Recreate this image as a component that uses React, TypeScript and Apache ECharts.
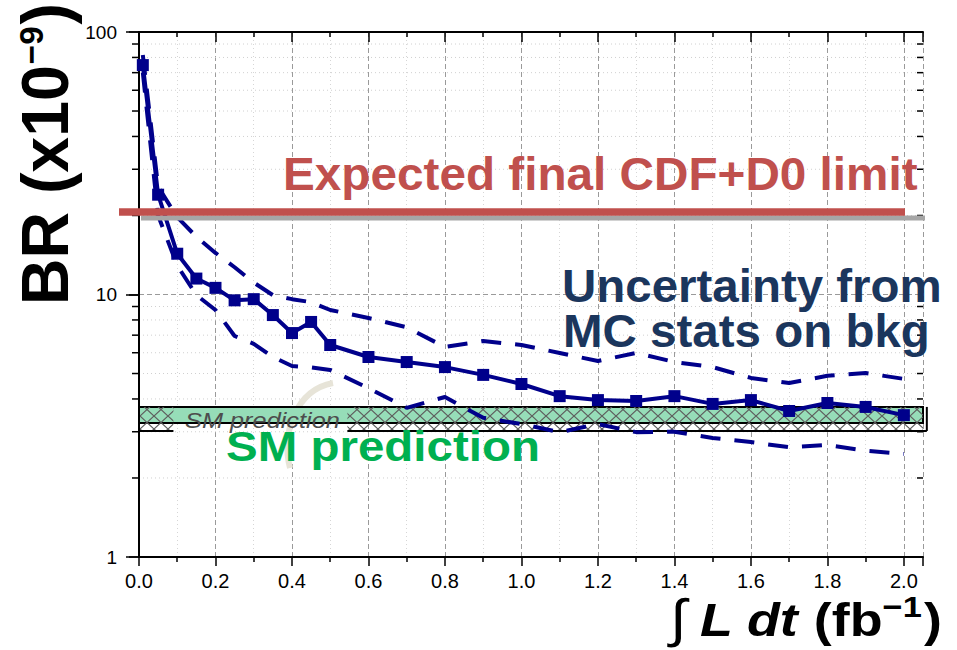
import React, { useEffect, useRef } from 'react';
import * as echarts from 'echarts';

// ---------------- data ----------------
const lumi = [0.01, 0.05, 0.1, 0.15, 0.2, 0.25, 0.3, 0.35, 0.4, 0.45, 0.5, 0.6, 0.7, 0.8, 0.9, 1.0, 1.1, 1.2, 1.3, 1.4, 1.5, 1.6, 1.7, 1.8, 1.9, 2.0];
const expectedLimit = [74.8, 24, 14.3, 11.5, 10.6, 9.5, 9.6, 8.35, 7.13, 7.86, 6.42, 5.78, 5.53, 5.29, 4.94, 4.56, 4.1, 3.96, 3.93, 4.1, 3.83, 3.96, 3.6, 3.86, 3.73, 3.47];
const upperMC = [81.7, 25.7, 19.7, 16.6, 14.4, 12.7, 11.1, 9.95, 9.6, 9.35, 8.73, 8.14, 7.5, 6.31, 6.65, 6.42, 5.99, 5.58, 5.99, 5.53, 5.29, 4.81, 4.6, 4.9, 5.02, 4.77];
const lowerMC = [70, 20, 12.9, 9.95, 8.73, 6.95, 6.49, 5.78, 5.34, 5.28, 5.16, 4.4, 3.7, 4.07, 3.39, 3.21, 2.99, 3.21, 2.99, 3.0, 2.84, 2.74, 2.62, 2.67, 2.54, 2.47];
const cdfD0Limit = 20.6;
const smCentral = [3.24, 3.73];
const smHatch = [3.02, 3.73];
const hatchSegments = [[0, 0.09], [0.545, 2.06]];
const xRange = [0, 2.05];
const yRange = [1, 100];
const yMinorMultipliers = [2, 3, 4, 5, 6, 7, 8, 9];
const yDecades = [1, 10];

const FONT = '"Liberation Sans", Arial, Helvetica, sans-serif';
const NAVY = '#00008B';

let mctx: CanvasRenderingContext2D | null = null;
function measure(text: string, size: number, weight = 'bold', style = 'normal') {
  if (!mctx) mctx = document.createElement('canvas').getContext('2d');
  mctx!.font = `${style} ${weight} ${size}px "Liberation Sans"`;
  return mctx!.measureText(text).width;
}

function fitText(text: string, size: number, color: string, left: number, baseline: number, width?: number, weight = 'bold', style = 'normal', z = 10) {
  const w = measure(text, size, weight, style);
  return {
    type: 'text', x: left, y: baseline - 0.35 * size, scaleX: width ? width / w : 1, z, silent: true,
    style: { text, fontSize: size, fontWeight: weight, fontStyle: style, fontFamily: FONT, fill: color, align: 'left', verticalAlign: 'middle' },
  };
}

function makeHatch() {
  const c = document.createElement('canvas');
  c.width = 14; c.height = 13;
  const g = c.getContext('2d')!;
  g.strokeStyle = '#5e5e5e';
  g.lineWidth = 1.2;
  g.beginPath();
  g.moveTo(0, 0); g.lineTo(14, 13);
  g.moveTo(14, 0); g.lineTo(0, 13);
  g.stroke();
  return { image: c.toDataURL(), repeat: 'repeat', imageWidth: 14, imageHeight: 13 };
}

export default function App() {
  const ref = useRef<HTMLDivElement>(null);
  useEffect(() => {
    document.body.style.margin = '0';
    const chart = echarts.init(ref.current!, null, { renderer: 'svg' });
    const hatch = makeHatch();
    const pts = (ys: number[]) => lumi.map((x, i) => [x, ys[i]]);
    const axisLine = { lineStyle: { color: '#000', width: 2 } };

    chart.setOption({
      animation: false,
      backgroundColor: '#fff',
      grid: { left: 139, right: 34, top: 32, bottom: 93, containLabel: false },
      xAxis: [
        {
          type: 'value', position: 'bottom', min: xRange[0], max: xRange[1], interval: 0.2,
          axisLine, axisTick: { length: 9, lineStyle: { color: '#000', width: 1.5 } },
          minorTick: { show: true, splitNumber: 2, length: 5, lineStyle: { color: '#000', width: 1.5 } },
          axisLabel: { fontSize: 20, color: '#000', fontFamily: FONT, margin: 14, showMaxLabel: false, formatter: (v: number) => v.toFixed(1) },
          splitLine: { show: true, lineStyle: { color: '#9a9a9a', type: [5, 3], width: 1 } },
          minorSplitLine: { show: true, lineStyle: { color: '#d6d6d6', type: [1, 3], width: 1 } },
        },
        {
          type: 'value', position: 'top', min: xRange[0], max: xRange[1], interval: 0.2,
          axisLine, axisTick: { inside: true, length: 10, lineStyle: { color: '#000', width: 1.5 } },
          minorTick: { show: true, splitNumber: 2, length: 5, lineStyle: { color: '#000', width: 1.5 } },
          axisLabel: { show: false }, splitLine: { show: false },
        },
      ],
      yAxis: [
        {
          type: 'log', logBase: 10, min: yRange[0], max: yRange[1], splitNumber: 2, position: 'left',
          axisLine, axisTick: { length: 13, lineStyle: { color: '#000', width: 1.5 } },
          axisLabel: { fontSize: 19, color: '#000', fontFamily: FONT, margin: 22, formatter: (v: number) => String(Math.round(v)) },
          splitLine: { show: true, lineStyle: { color: '#9a9a9a', type: [5, 3], width: 1 } },
        },
        {
          type: 'log', logBase: 10, min: yRange[0], max: yRange[1], splitNumber: 2, position: 'right',
          axisLine, axisTick: { inside: true, length: 10, lineStyle: { color: '#000', width: 1.5 } },
          axisLabel: { show: false }, splitLine: { show: false },
        },
      ],
      series: [
        {
          type: 'line', name: 'SM band', data: [], z: 1, silent: true,
          markArea: {
            silent: true, label: { show: false },
            data: [
              [{ xAxis: xRange[0], yAxis: smCentral[0], itemStyle: { color: '#96DDB8', borderColor: '#000', borderWidth: 2 } }, { xAxis: 2.06, yAxis: smCentral[1] }],
              ...hatchSegments.map((s) => [
                { xAxis: s[0], yAxis: smHatch[0], itemStyle: { color: hatch, borderWidth: 0 } },
                { xAxis: s[1], yAxis: smHatch[1] },
              ]),
            ],
          },
        },
        {
          type: 'line', name: 'upper', data: pts(upperMC), symbol: 'none',
          lineStyle: { color: NAVY, width: 4, type: [20, 14] },
        },
        {
          type: 'line', name: 'lower', data: pts(lowerMC), symbol: 'none',
          lineStyle: { color: NAVY, width: 4, type: [20, 14] },
        },
        {
          type: 'line', name: 'expected', data: pts(expectedLimit), symbol: 'rect', symbolSize: 12,
          lineStyle: { color: NAVY, width: 4 }, itemStyle: { color: NAVY },
        },
      ],
    });

    const px = (x: number, y: number) => chart.convertToPixel({ xAxisIndex: 0, yAxisIndex: 0 }, [x, y]) as number[];
    const x0 = px(xRange[0], 1)[0];
    const x1 = px(xRange[1], 1)[0];
    const els: any[] = [];
    // minor log gridlines and ticks
    yDecades.forEach((d) => {
      yMinorMultipliers.forEach((m) => {
        const y = px(0, d * m)[1];
        els.push({ type: 'line', silent: true, z: 0, shape: { x1: x0, y1: y, x2: x1, y2: y }, style: { stroke: '#d0d0d0', lineWidth: 1, lineDash: [1, 3] } });
        els.push({ type: 'line', silent: true, z: 3, shape: { x1: x0 - 7, y1: y, x2: x0, y2: y }, style: { stroke: '#000', lineWidth: 1.5 } });
        els.push({ type: 'line', silent: true, z: 3, shape: { x1: x1 - 6, y1: y, x2: x1, y2: y }, style: { stroke: '#000', lineWidth: 1.5 } });
      });
    });
    // hatch box outlines (bottom edges of the hatched segments + outer ends)
    const yhB = px(0, smHatch[0])[1];
    const yhT = px(0, smHatch[1])[1];
    hatchSegments.forEach((s) => {
      const a = px(s[0], 1)[0], b = px(s[1], 1)[0];
      els.push({ type: 'line', silent: true, z: 1, shape: { x1: a, y1: yhB, x2: b, y2: yhB }, style: { stroke: '#000', lineWidth: 2 } });
    });
    els.push({ type: 'line', silent: true, z: 1, shape: { x1: x0, y1: yhT, x2: x0, y2: yhB }, style: { stroke: '#000', lineWidth: 2 } });
    els.push({ type: 'line', silent: true, z: 1, shape: { x1: px(2.06, 1)[0], y1: yhT, x2: px(2.06, 1)[0], y2: yhB }, style: { stroke: '#000', lineWidth: 2 } });
    // beige arc remnant
    els.push({ type: 'bezierCurve', silent: true, z: 0, shape: { x1: 333, y1: 383, cpx1: 295, cpy1: 390, cpx2: 281, cpy2: 435, x2: 290, y2: 468 }, style: { stroke: '#E7E4D8', lineWidth: 6, fill: null } });
    // CDF+D0 limit line
    const yl = px(0, cdfD0Limit)[1];
    els.push({ type: 'line', silent: true, z: 4, shape: { x1: x0 + 2, y1: yl + 6, x2: 925, y2: yl + 6 }, style: { stroke: '#A6A6A6', lineWidth: 5 } });
    els.push({ type: 'line', silent: true, z: 5, shape: { x1: 119, y1: yl, x2: 905, y2: yl }, style: { stroke: '#C0504D', lineWidth: 7.5 } });
    // annotations
    els.push(fitText('Expected final CDF+D0 limit', 46, '#C0504D', 283, 190, 635));
    els.push(fitText('Uncertainty from', 46, '#1B365D', 562, 302, 380));
    els.push(fitText('MC stats on bkg', 46, '#1B365D', 563, 347, 367));
    els.push(fitText('SM prediction', 22, '#4d4d4d', 185, 428, 155, 'normal', 'italic', 6));
    els.push(fitText('SM prediction', 42, '#00B050', 226, 461, 314));

    // y-axis title (rotated)
    const fsY = 66, fsYs = 34;
    const w1 = measure('BR (x10', fsY), w2 = measure('\u22129', fsYs), w3 = measure(')', fsY);
    const sY = 302 / (w1 + w2 + w3 + 3);
    const tStyle = (text: string, size: number) => ({ text, fontSize: size, fontWeight: 'bold', fontFamily: FONT, fill: '#000', align: 'left', verticalAlign: 'middle' });
    els.push({
      type: 'group', x: 68, y: 305, rotation: Math.PI / 2, scaleX: sY, silent: true, z: 10,
      children: [
        { type: 'text', x: 0, y: -0.35 * fsY, style: tStyle('BR (x10', fsY) },
        { type: 'text', x: w1 + 1, y: -25 - 0.35 * fsYs, style: tStyle('\u22129', fsYs) },
        { type: 'text', x: w1 + w2 + 3, y: -0.35 * fsY, style: tStyle(')', fsY) },
      ],
    });

    // x-axis title
    const fsX = 47, fsI = 52, fsXs = 30;
    const a1 = measure('\u222B', fsI, 'normal', 'italic');
    const a2 = measure('L dt', fsX, 'bold', 'italic');
    const a3 = measure(' (fb', fsX);
    const a4 = measure('\u22121', fsXs);
    const a5 = measure(')', fsX);
    const gap = 12;
    const sX = 272 / (a1 + gap + a2 + a3 + a4 + a5 + 2);
    const xStyle = (text: string, size: number, weight = 'bold', style = 'normal') => ({ text, fontSize: size, fontWeight: weight, fontStyle: style, fontFamily: FONT, fill: '#000', align: 'left', verticalAlign: 'middle' });
    let cx = 0;
    const xKids: any[] = [];
    xKids.push({ type: 'text', x: cx, y: -0.35 * fsI, style: xStyle('\u222B', fsI, 'normal', 'italic') }); cx += a1 + gap;
    xKids.push({ type: 'text', x: cx, y: -0.35 * fsX, style: xStyle('L dt', fsX, 'bold', 'italic') }); cx += a2;
    xKids.push({ type: 'text', x: cx, y: -0.35 * fsX, style: xStyle(' (fb', fsX) }); cx += a3;
    xKids.push({ type: 'text', x: cx, y: -19 - 0.35 * fsXs, style: xStyle('\u22121', fsXs) }); cx += a4 + 2;
    xKids.push({ type: 'text', x: cx, y: -0.35 * fsX, style: xStyle(')', fsX) });
    els.push({ type: 'group', x: 670, y: 636, scaleX: sX, silent: true, z: 10, children: xKids });

    chart.setOption({ graphic: { elements: els } });
    return () => chart.dispose();
  }, []);
  return <div ref={ref} style={{ width: 957, height: 650 }} />;
}
